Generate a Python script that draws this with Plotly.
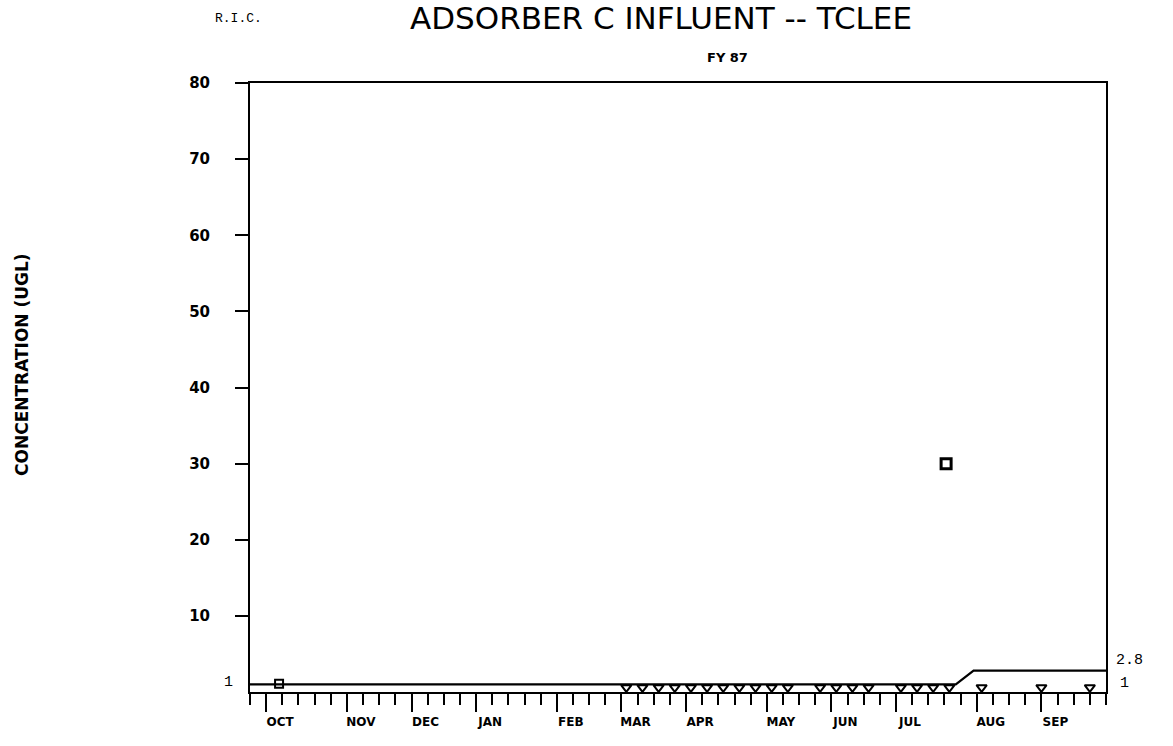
import plotly.graph_objects as go

# ---- data (x in fiscal weeks from 1 Oct 1986, y in ug/L) ----
month_labels = ["OCT", "NOV", "DEC", "JAN", "FEB", "MAR",
                "APR", "MAY", "JUN", "JUL", "AUG", "SEP"]
month_weeks = [1, 6, 10, 14, 19, 23, 27, 32, 36, 40, 45, 49]

# reporting limit over the year
limit_weeks = [0, 43.7, 44.8, 53]
limit_values = [1, 1, 2.8, 2.8]

# samples below the reporting limit
nd_weeks = [23.3, 24.3, 25.3, 26.3, 27.3, 28.3, 29.3, 30.3, 31.3, 32.3, 33.3,
            35.3, 36.3, 37.3, 38.3, 40.3, 41.3, 42.3, 43.3, 45.3, 49.0, 52.0]
nd_values = [0.6] * len(nd_weeks)

# detected result
det_weeks = [43.1]
det_values = [30]

# early-October flagged point
flag_weeks = [1.8]
flag_values = [1.1]

y_ticks = [10, 20, 30, 40, 50, 60, 70, 80]

BOLD = dict(family="DejaVu Sans", size=13, color="black", weight="bold")
MONO = dict(family="Liberation Mono", size=15, color="black")

# page geometry (pixels)
fig_w, fig_h = 1173, 746
PL, PR, PT, PB = 250, 1106, 83, 692


def px_to_paper(px, py):
    return (px - PL) / (PR - PL), (PB - py) / (PB - PT)


fig = go.Figure()

fig.add_trace(go.Scatter(
    x=limit_weeks, y=limit_values, mode="lines",
    line=dict(color="black", width=2.2), hoverinfo="skip", showlegend=False))

fig.add_trace(go.Scatter(
    x=nd_weeks, y=nd_values, mode="markers",
    marker=dict(symbol="triangle-down-open", size=9, color="black",
                line=dict(width=2, color="black")),
    showlegend=False))

fig.add_trace(go.Scatter(
    x=det_weeks, y=det_values, mode="markers",
    marker=dict(symbol="square-open", size=10, color="black",
                line=dict(width=3, color="black")),
    showlegend=False))

fig.add_trace(go.Scatter(
    x=flag_weeks, y=flag_values, mode="markers",
    marker=dict(symbol="square-open", size=8, color="black",
                line=dict(width=2, color="black")),
    showlegend=False))

fig.update_xaxes(
    range=[0, 53], showgrid=False, zeroline=False,
    showline=True, linecolor="black", linewidth=2, mirror=True,
    tickmode="array", tickvals=month_weeks, ticktext=month_labels,
    ticks="outside", ticklen=18, tickwidth=2, tickcolor="black",
    ticklabelshift=14, tickfont=dict(BOLD, size=12),
    minor=dict(tickmode="linear", tick0=0, dtick=1, ticks="outside",
               ticklen=11, tickwidth=2, tickcolor="black", showgrid=False),
)

fig.update_yaxes(
    range=[0, 80], showgrid=False, zeroline=False,
    showline=True, linecolor="black", linewidth=2, mirror=True,
    tickmode="array", tickvals=y_ticks, ticktext=[str(v) for v in y_ticks],
    ticks="outside", ticklen=13, tickwidth=2, tickcolor="black",
    ticklabelstandoff=22, tickfont=dict(BOLD, size=15),
)

annotations = []
for text, px, py, font, angle in [
    ("ADSORBER C INFLUENT -- TCLEE", 661, 18,
     dict(family="DejaVu Sans", size=31, color="black"), 0),
    ("R.I.C.", 238, 18, dict(MONO, size=13), 0),
    ("FY 87", 727, 58, dict(BOLD, size=13), 0),
    ("CONCENTRATION (UGL)", 22, 365, dict(BOLD, size=17), -90),
]:
    ax, ay = px_to_paper(px, py)
    annotations.append(dict(text=text, xref="paper", yref="paper", x=ax, y=ay,
                            xanchor="center", yanchor="middle", textangle=angle,
                            showarrow=False, font=font))

# limit values written at the plot edges
annotations += [
    dict(text=str(limit_values[0]), xref="paper", x=px_to_paper(228, 0)[0],
         yref="y", y=limit_values[0], xanchor="center", yanchor="middle",
         yshift=2, showarrow=False, font=MONO),
    dict(text=str(limit_values[-1]), xref="paper", x=1.0, yref="y", y=limit_values[-1],
         xanchor="left", yanchor="middle", xshift=8, yshift=10, showarrow=False, font=MONO),
    dict(text=str(limit_values[0]), xref="paper", x=1.0, yref="y", y=limit_values[0],
         xanchor="left", yanchor="middle", xshift=12, yshift=1, showarrow=False, font=MONO),
]

fig.update_layout(
    width=fig_w, height=fig_h,
    margin=dict(l=PL, r=fig_w - PR, t=PT, b=fig_h - PB),
    paper_bgcolor="white", plot_bgcolor="white",
    annotations=annotations,
    showlegend=False,
)

fig.write_html("out.html")
